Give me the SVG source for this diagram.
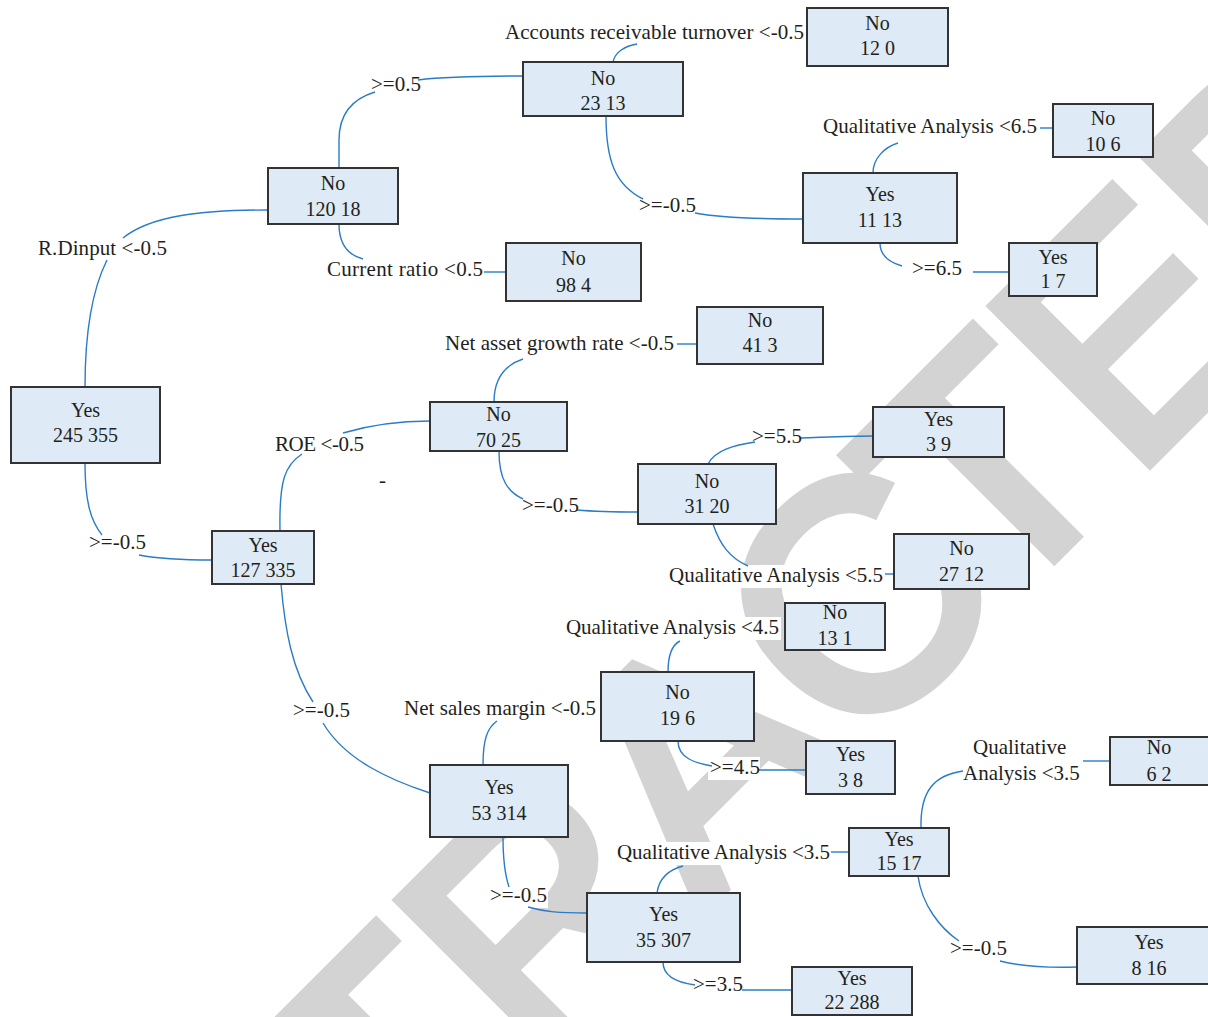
<svg xmlns="http://www.w3.org/2000/svg" width="1208" height="1017" viewBox="0 0 1208 1017">
  <style>
    .box { fill: #deeaf5; stroke: #333333; stroke-width: 2; }
    .nt { font-family: "Liberation Serif", "Times New Roman", serif; font-size: 20px; fill: #231f20; text-anchor: middle; }
    .lb { font-family: "Liberation Serif", "Times New Roman", serif; font-size: 21px; fill: #231f20; }
    .bg { fill: #ffffff; }
    .edge { fill: none; stroke: #2a7cc7; stroke-width: 1.4; }
    .stamp { font-family: "Liberation Sans", Arial, sans-serif; font-size: 321px; fill: #d3d3d3; stroke: #d3d3d3; stroke-width: 12; stroke-linejoin: miter; }
  </style>
  <rect width="1208" height="1017" fill="#ffffff"/>

  <!-- diagonal stamp behind the tree -->
  <text class="stamp" transform="rotate(-45)" x="-1022 -790 -576 -380 -148 66 268 460 674" y="1140">RETRACTED</text>

  <!-- white backing behind split labels -->
  <g id="label-backs">
    <rect class="bg" x="503" y="22" width="303" height="23"/>
    <rect class="bg" x="821" y="116" width="218" height="23"/>
    <rect class="bg" x="369" y="74" width="53" height="23"/>
    <rect class="bg" x="36" y="238" width="133" height="23"/>
    <rect class="bg" x="325" y="259" width="160" height="23"/>
    <rect class="bg" x="637" y="195" width="60" height="23"/>
    <rect class="bg" x="910" y="258" width="52" height="23"/>
    <rect class="bg" x="443" y="333" width="233" height="23"/>
    <rect class="bg" x="273" y="434" width="93" height="23"/>
    <rect class="bg" x="87" y="532" width="60" height="23"/>
    <rect class="bg" x="750" y="426" width="52" height="23"/>
    <rect class="bg" x="520" y="495" width="59" height="23"/>
    <rect class="bg" x="667" y="565" width="218" height="23"/>
    <rect class="bg" x="564" y="617" width="217" height="23"/>
    <rect class="bg" x="402" y="698" width="196" height="23"/>
    <rect class="bg" x="291" y="700" width="59" height="23"/>
    <rect class="bg" x="708" y="757" width="52" height="23"/>
    <rect class="bg" x="615" y="842" width="217" height="23"/>
    <rect class="bg" x="971" y="737" width="98" height="22"/>
    <rect class="bg" x="961" y="763" width="118" height="23"/>
    <rect class="bg" x="948" y="938" width="60" height="23"/>
    <rect class="bg" x="488" y="885" width="60" height="23"/>
    <rect class="bg" x="691" y="974" width="53" height="23"/>
  </g>

  <!-- connectors -->
  <g id="connectors" class="edge">
    <path d="M339,168 L339,140 C339,112 355,98 375,92"/>
    <path d="M418,80 C450,76 490,76 523,76"/>
    <path d="M268,210 C200,210 150,216 123,238"/>
    <path d="M107,260 C92,290 85,330 85,387"/>
    <path d="M339,224 C339,245 348,255 363,259"/>
    <path d="M484,272 L506,272"/>
    <path d="M613,62 C615,52 625,46 637,44"/>
    <path d="M606,116 C606,160 615,185 643,199"/>
    <path d="M695,213 C720,218 760,219 803,219"/>
    <path d="M873,173 C873,158 885,147 898,143"/>
    <path d="M1040,128 L1053,128"/>
    <path d="M880,243 C880,255 888,262 902,266"/>
    <path d="M973,272 L1009,272"/>
    <path d="M85,463 C85,500 90,520 102,535"/>
    <path d="M139,555 C160,559 180,560 212,560"/>
    <path d="M280,531 C279,480 285,465 302,454"/>
    <path d="M343,433 C370,425 400,421 430,421"/>
    <path d="M494,402 C494,378 505,365 523,359"/>
    <path d="M677,344 L697,344"/>
    <path d="M499,451 C499,480 508,492 523,499"/>
    <path d="M577,510 C600,512 620,512 638,512"/>
    <path d="M708,464 C715,450 735,445 755,442"/>
    <path d="M800,438 C830,437 850,436 873,436"/>
    <path d="M713,524 C720,545 730,558 748,566"/>
    <path d="M885,574 L894,574"/>
    <path d="M281,584 C285,630 292,670 313,702"/>
    <path d="M323,723 C345,760 390,780 430,793"/>
    <path d="M483,765 C483,740 487,728 497,721"/>
    <path d="M668,672 C668,655 672,645 680,641"/>
    <path d="M678,741 C678,758 695,763 712,766"/>
    <path d="M758,770 L806,770"/>
    <path d="M503,837 C503,862 506,878 509,887"/>
    <path d="M528,907 C545,912 560,913 587,913"/>
    <path d="M657,893 C659,878 668,870 683,866"/>
    <path d="M831,852 L849,852"/>
    <path d="M921,828 C920,790 935,775 963,771"/>
    <path d="M1083,761 L1110,761"/>
    <path d="M918,876 C922,905 940,928 959,941"/>
    <path d="M1000,961 C1020,966 1045,968 1077,967"/>
    <path d="M663,962 C663,978 680,983 695,985"/>
    <path d="M742,990 L792,990"/>
  </g>

  <!-- split labels -->
  <g id="labels" class="lb">
    <text x="505" y="39" textLength="299" lengthAdjust="spacing">Accounts receivable turnover &lt;-0.5</text>
    <text x="823" y="133" textLength="214" lengthAdjust="spacing">Qualitative Analysis &lt;6.5</text>
    <text x="371" y="91">&gt;=0.5</text>
    <text x="38" y="255" textLength="129" lengthAdjust="spacing">R.Dinput &lt;-0.5</text>
    <text x="327" y="276" textLength="156" lengthAdjust="spacing">Current ratio &lt;0.5</text>
    <text x="639" y="212">&gt;=-0.5</text>
    <text x="912" y="275">&gt;=6.5</text>
    <text x="445" y="350" textLength="229" lengthAdjust="spacing">Net asset growth rate &lt;-0.5</text>
    <text x="275" y="451" textLength="89" lengthAdjust="spacing">ROE &lt;-0.5</text>
    <text x="379" y="487">-</text>
    <text x="89" y="549">&gt;=-0.5</text>
    <text x="752" y="443">&gt;=5.5</text>
    <text x="522" y="512">&gt;=-0.5</text>
    <text x="669" y="582" textLength="214" lengthAdjust="spacing">Qualitative Analysis &lt;5.5</text>
    <text x="566" y="634" textLength="213" lengthAdjust="spacing">Qualitative Analysis &lt;4.5</text>
    <text x="404" y="715" textLength="192" lengthAdjust="spacing">Net sales margin &lt;-0.5</text>
    <text x="293" y="717">&gt;=-0.5</text>
    <text x="710" y="774">&gt;=4.5</text>
    <text x="617" y="859" textLength="213" lengthAdjust="spacing">Qualitative Analysis &lt;3.5</text>
    <text x="973" y="754">Qualitative</text>
    <text x="963" y="780">Analysis &lt;3.5</text>
    <text x="950" y="955">&gt;=-0.5</text>
    <text x="490" y="902">&gt;=-0.5</text>
    <text x="693" y="991">&gt;=3.5</text>
  </g>

  <!-- tree nodes -->
  <g id="n-12-0"><rect class="box" x="807" y="8" width="141" height="58"/><text class="nt" x="877.5" y="30">No</text><text class="nt" x="877.5" y="55">12 0</text></g>
  <g id="n-23-13"><rect class="box" x="523" y="62" width="160" height="54"/><text class="nt" x="603" y="85">No</text><text class="nt" x="603" y="110">23 13</text></g>
  <g id="n-120-18"><rect class="box" x="268" y="168" width="130" height="56"/><text class="nt" x="333" y="190">No</text><text class="nt" x="333" y="216">120 18</text></g>
  <g id="n-98-4"><rect class="box" x="506" y="243" width="135" height="58"/><text class="nt" x="573.5" y="265">No</text><text class="nt" x="573.5" y="292">98 4</text></g>
  <g id="n-10-6"><rect class="box" x="1053" y="104" width="100" height="53"/><text class="nt" x="1103" y="125">No</text><text class="nt" x="1103" y="151">10 6</text></g>
  <g id="n-11-13"><rect class="box" x="803" y="173" width="154" height="70"/><text class="nt" x="880" y="201">Yes</text><text class="nt" x="880" y="227">11 13</text></g>
  <g id="n-1-7"><rect class="box" x="1009" y="243" width="88" height="53"/><text class="nt" x="1053" y="264">Yes</text><text class="nt" x="1053" y="288">1 7</text></g>
  <g id="n-245-355"><rect class="box" x="11" y="387" width="149" height="76"/><text class="nt" x="85.5" y="417">Yes</text><text class="nt" x="85.5" y="442">245 355</text></g>
  <g id="n-127-335"><rect class="box" x="212" y="531" width="102" height="53"/><text class="nt" x="263" y="552">Yes</text><text class="nt" x="263" y="577">127 335</text></g>
  <g id="n-41-3"><rect class="box" x="697" y="307" width="126" height="57"/><text class="nt" x="760" y="327">No</text><text class="nt" x="760" y="352">41 3</text></g>
  <g id="n-70-25"><rect class="box" x="430" y="402" width="137" height="49"/><text class="nt" x="498.5" y="421">No</text><text class="nt" x="498.5" y="447">70 25</text></g>
  <g id="n-31-20"><rect class="box" x="638" y="464" width="138" height="60"/><text class="nt" x="707" y="488">No</text><text class="nt" x="707" y="513">31 20</text></g>
  <g id="n-3-9"><rect class="box" x="873" y="407" width="131" height="50"/><text class="nt" x="938.5" y="426">Yes</text><text class="nt" x="938.5" y="451">3 9</text></g>
  <g id="n-27-12"><rect class="box" x="894" y="534" width="135" height="55"/><text class="nt" x="961.5" y="555">No</text><text class="nt" x="961.5" y="581">27 12</text></g>
  <g id="n-13-1"><rect class="box" x="785" y="603" width="100" height="47"/><text class="nt" x="835" y="619">No</text><text class="nt" x="835" y="645">13 1</text></g>
  <g id="n-19-6"><rect class="box" x="601" y="672" width="153" height="69"/><text class="nt" x="677.5" y="699">No</text><text class="nt" x="677.5" y="725">19 6</text></g>
  <g id="n-3-8"><rect class="box" x="806" y="741" width="89" height="53"/><text class="nt" x="850.5" y="761">Yes</text><text class="nt" x="850.5" y="787">3 8</text></g>
  <g id="n-53-314"><rect class="box" x="430" y="765" width="138" height="72"/><text class="nt" x="499" y="794">Yes</text><text class="nt" x="499" y="820">53 314</text></g>
  <g id="n-15-17"><rect class="box" x="849" y="828" width="100" height="48"/><text class="nt" x="899" y="846">Yes</text><text class="nt" x="899" y="870">15 17</text></g>
  <g id="n-35-307"><rect class="box" x="587" y="893" width="153" height="69"/><text class="nt" x="663.5" y="921">Yes</text><text class="nt" x="663.5" y="947">35 307</text></g>
  <g id="n-22-288"><rect class="box" x="792" y="967" width="120" height="48"/><text class="nt" x="852" y="985">Yes</text><text class="nt" x="852" y="1009">22 288</text></g>
  <g id="n-6-2"><rect class="box" x="1110" y="737" width="100" height="48"/><text class="nt" x="1159" y="754">No</text><text class="nt" x="1159" y="781">6 2</text></g>
  <g id="n-8-16"><rect class="box" x="1077" y="927" width="144" height="57"/><text class="nt" x="1149" y="949">Yes</text><text class="nt" x="1149" y="975">8 16</text></g>
</svg>
